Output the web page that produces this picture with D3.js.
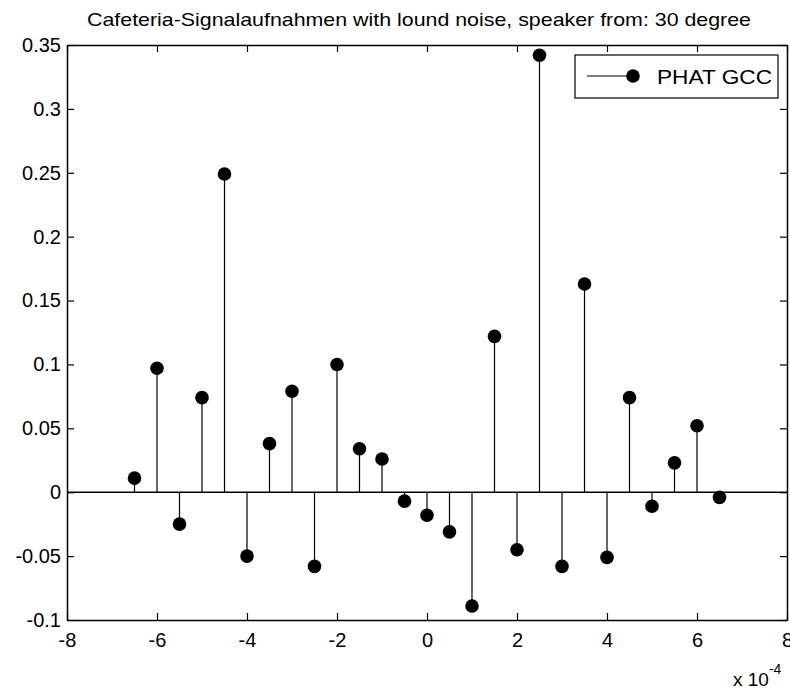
<!DOCTYPE html>
<html>
<head>
<meta charset="utf-8">
<script src="https://cdn.jsdelivr.net/npm/d3@7"></script>
<style>
  html, body { margin: 0; padding: 0; background: #fff; }
  svg { display: block; }
  text { font-family: "Liberation Sans", Arial, sans-serif; fill: #000; }
</style>
</head>
<body>
<svg id="chart" width="790" height="692"></svg>
<script>
// Time lags (seconds) and PHAT-weighted GCC values
const lags = [-6.5e-4, -6e-4, -5.5e-4, -5e-4, -4.5e-4, -4e-4, -3.5e-4, -3e-4, -2.5e-4,
              -2e-4, -1.5e-4, -1e-4, -0.5e-4, 0, 0.5e-4, 1e-4, 1.5e-4, 2e-4, 2.5e-4,
              3e-4, 3.5e-4, 4e-4, 4.5e-4, 5e-4, 5.5e-4, 6e-4, 6.5e-4];
const gcc = [0.011, 0.097, -0.025, 0.074, 0.249, -0.050, 0.038, 0.079, -0.058,
             0.100, 0.034, 0.026, -0.007, -0.018, -0.031, -0.089, 0.122, -0.045, 0.342,
             -0.058, 0.163, -0.051, 0.074, -0.011, 0.023, 0.052, -0.004];

const xTicks = [-8e-4, -6e-4, -4e-4, -2e-4, 0, 2e-4, 4e-4, 6e-4, 8e-4];
const xTickLabels = ["-8", "-6", "-4", "-2", "0", "2", "4", "6", "8"];
const yTicks = [-0.1, -0.05, 0, 0.05, 0.1, 0.15, 0.2, 0.25, 0.3, 0.35];
const yTickLabels = ["-0.1", "-0.05", "0", "0.05", "0.1", "0.15", "0.2", "0.25", "0.3", "0.35"];

const titleText = "Cafeteria-Signalaufnahmen with lound noise, speaker from: 30 degree";
const legendLabel = "PHAT GCC";

const svg = d3.select("#chart");
const L = 67, R = 787, T = 45, B = 620;

const x = d3.scaleLinear().domain([-8e-4, 8e-4]).range([L, R]);
const y = d3.scaleLinear().domain([-0.1, 0.35]).range([B, T]);

// Title
svg.append("text")
  .attr("x", 87).attr("y", 26)
  .attr("font-size", 19)
  .attr("textLength", 664).attr("lengthAdjust", "spacingAndGlyphs")
  .text(titleText);

// Axes with inward ticks, mirrored on top and right
const tickLen = 7;
const xFmt = (d, i) => xTickLabels[i];
const yFmt = (d, i) => yTickLabels[i];

const gB = svg.append("g").attr("transform", `translate(0,${B})`)
  .call(d3.axisBottom(x).tickValues(xTicks).tickFormat(xFmt).tickSizeInner(-tickLen).tickSizeOuter(0).tickPadding(13));
const gT = svg.append("g").attr("transform", `translate(0,${T})`)
  .call(d3.axisTop(x).tickValues(xTicks).tickFormat("").tickSizeInner(-tickLen).tickSizeOuter(0));
const gL = svg.append("g").attr("transform", `translate(${L},0)`)
  .call(d3.axisLeft(y).tickValues(yTicks).tickFormat(yFmt).tickSizeInner(-tickLen).tickSizeOuter(0).tickPadding(6));
const gR = svg.append("g").attr("transform", `translate(${R},0)`)
  .call(d3.axisRight(y).tickValues(yTicks).tickFormat("").tickSizeInner(-tickLen).tickSizeOuter(0));

[gB, gT, gL, gR].forEach(g => {
  g.select(".domain").attr("stroke", "#000").attr("stroke-width", 1.5);
  g.selectAll(".tick line").attr("stroke", "#000").attr("stroke-width", 1.2);
  g.selectAll(".tick text").attr("font-size", 20).attr("fill", "#000")
    .style("font-family", "\"Liberation Sans\", Arial, sans-serif");
});

// Exponent label for the x axis
const expo = svg.append("text").attr("x", 733).attr("y", 686).attr("font-size", 19);
expo.append("tspan").text("x 10");
expo.append("tspan").attr("dy", -12).attr("font-size", 14).text("-4");

// Baseline at zero
svg.append("line")
  .attr("x1", x(-8e-4)).attr("x2", x(8e-4))
  .attr("y1", y(0)).attr("y2", y(0))
  .attr("stroke", "#000").attr("stroke-width", 1.5);

// Stems
const pts = lags.map((l, i) => ({ lag: l, v: gcc[i] }));
svg.append("g").selectAll("line").data(pts).join("line")
  .attr("x1", d => x(d.lag)).attr("x2", d => x(d.lag))
  .attr("y1", y(0)).attr("y2", d => y(d.v))
  .attr("stroke", "#000").attr("stroke-width", 1.2);

// Markers
svg.append("g").selectAll("circle").data(pts).join("circle")
  .attr("cx", d => x(d.lag)).attr("cy", d => y(d.v))
  .attr("r", 6.8).attr("fill", "#000");

// Legend
const lg = svg.append("g");
lg.append("rect").attr("x", 575).attr("y", 55).attr("width", 203).attr("height", 43)
  .attr("fill", "#fff").attr("stroke", "#000").attr("stroke-width", 1.2);
lg.append("line").attr("x1", 587).attr("x2", 633).attr("y1", 76).attr("y2", 76)
  .attr("stroke", "#000").attr("stroke-width", 1.2);
lg.append("circle").attr("cx", 633).attr("cy", 76).attr("r", 6.8).attr("fill", "#000");
lg.append("text").attr("x", 657).attr("y", 84).attr("font-size", 20)
  .attr("textLength", 115).attr("lengthAdjust", "spacingAndGlyphs")
  .text(legendLabel);
</script>
</body>
</html>
